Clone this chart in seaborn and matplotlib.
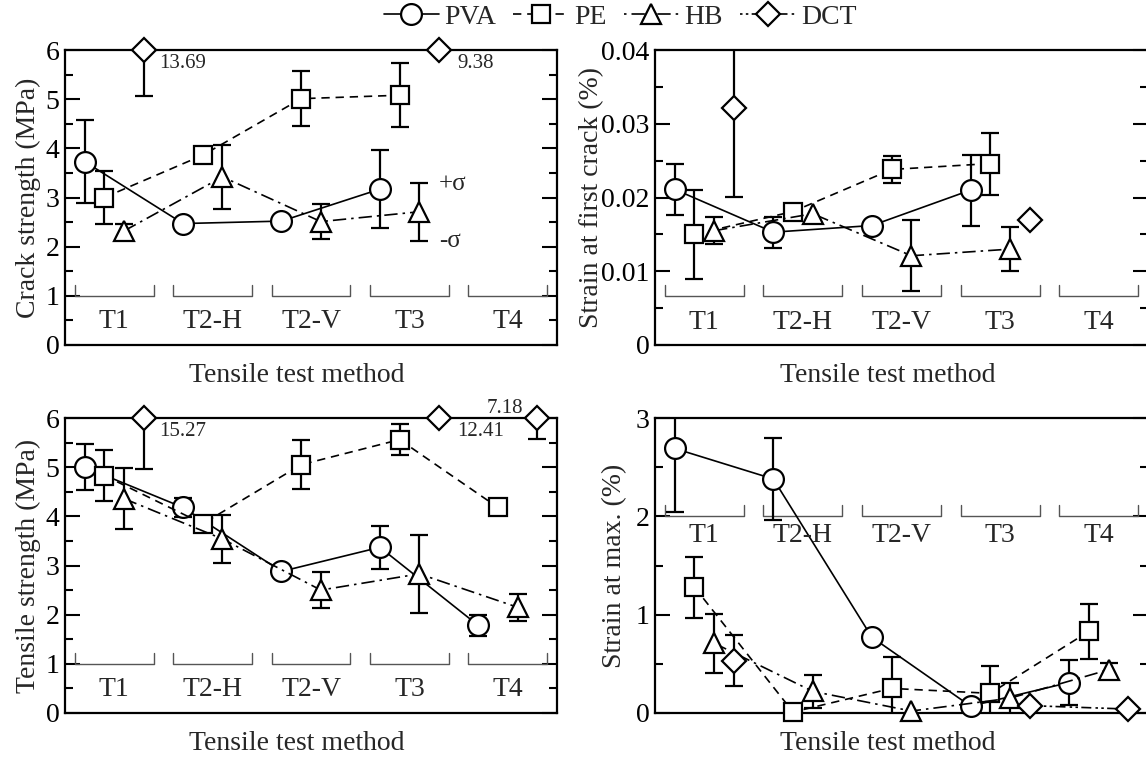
import numpy as np
import pandas as pd
import matplotlib
matplotlib.use("Agg")
import matplotlib.pyplot as plt
import seaborn as sns
from matplotlib.lines import Line2D

# ---------------- data ----------------
methods = ["T1", "T2-H", "T2-V", "T3", "T4"]
series = ["PVA", "PE", "HB", "DCT"]
nan = np.nan

# Crack strength (MPa)
crack_pva = [3.73, 2.47, 2.52, 3.17, nan]
crack_pva_sd = [0.84, nan, nan, 0.80, nan]
crack_pe = [3.00, 3.86, 5.01, 5.08, nan]
crack_pe_sd = [0.53, nan, 0.56, 0.65, nan]
crack_hb = [2.32, 3.42, 2.51, 2.71, nan]
crack_hb_sd = [0.14, 0.65, 0.36, 0.59, nan]
crack_dct = [13.69, nan, nan, 9.38, nan]
crack_dct_sd = [8.62, nan, nan, nan, nan]

# Strain at first crack (%)
fc_pva = [0.0211, 0.0153, 0.0162, 0.0210, nan]
fc_pva_sd = [0.0035, 0.0021, nan, 0.0048, nan]
fc_pe = [0.0150, 0.0181, 0.0238, 0.0246, nan]
fc_pe_sd = [0.0060, nan, 0.0018, 0.0042, nan]
fc_hb = [0.0155, 0.0178, 0.0121, 0.0130, nan]
fc_hb_sd = [0.0018, nan, 0.0048, 0.0030, nan]
fc_dct = [0.0322, nan, nan, 0.0169, nan]
fc_dct_sd = [0.0121, nan, nan, nan, nan]

# Tensile strength (MPa)
ts_pva = [5.00, 4.18, 2.88, 3.37, 1.78]
ts_pva_sd = [0.47, 0.19, nan, 0.44, 0.22]
ts_pe = [4.83, 3.85, 5.05, 5.56, 4.18]
ts_pe_sd = [0.52, nan, 0.50, 0.32, nan]
ts_hb = [4.36, 3.54, 2.50, 2.83, 2.15]
ts_hb_sd = [0.62, 0.49, 0.36, 0.80, 0.27]
ts_dct = [15.27, nan, nan, 12.41, 7.18]
ts_dct_sd = [10.31, nan, nan, nan, 1.61]

# Strain at max. (%)
sm_pva = [2.69, 2.38, 0.77, 0.07, 0.31]
sm_pva_sd = [0.65, 0.42, nan, nan, 0.23]
sm_pe = [1.28, 0.01, 0.25, 0.20, 0.83]
sm_pe_sd = [0.31, nan, 0.32, 0.28, 0.28]
sm_hb = [0.71, 0.22, 0.02, 0.15, 0.44]
sm_hb_sd = [0.30, 0.17, nan, 0.16, 0.07]
sm_dct = [0.53, nan, nan, 0.075, 0.04]
sm_dct_sd = [0.26, nan, nan, nan, nan]

# ---------------- style ----------------
sns.set_theme(style="ticks")
plt.rcParams["font.family"] = ["Liberation Serif", "DejaVu Serif"]
FS = 20

offsets = {"PVA": 0.2, "PE": 0.4, "HB": 0.6, "DCT": 0.8}
dash = {
    "PVA": (),
    "PE": (5, 3.5),
    "HB": (8, 3, 1.5, 3),
    "DCT": (6, 2.5, 1.5, 2, 1.5, 2),
}
markers = {"PVA": ("o", 15), "PE": ("s", 13), "HB": ("^", 15), "DCT": ("D", 12)}
legend_offset = {"PVA": 0, "PE": 0, "HB": 11, "DCT": 8.5}


def style(name, offset=0):
    ls = "-" if not dash[name] else (offset, dash[name])
    m, ms = markers[name]
    return dict(linestyle=ls, marker=m, markersize=ms)


W, H = 1146, 760
fig = plt.figure(figsize=(W / 100, H / 100), dpi=100)


def rect(l, r, t, b):
    return [l / W, 1 - b / H, (r - l) / W, (b - t) / H]


ax_tl = fig.add_axes(rect(65, 557, 50, 345))
ax_tr = fig.add_axes(rect(655, 1148, 50, 345))
ax_bl = fig.add_axes(rect(65, 557, 418, 713))
ax_br = fig.add_axes(rect(655, 1148, 418, 713))


def draw_series(ax, name, vals, sds, ymax):
    x = np.arange(len(methods)) + offsets[name]
    y = np.asarray(vals, float)
    sd = np.asarray(sds, float)
    ok = np.isfinite(sd) & np.isfinite(y)
    if ok.any():
        ax.errorbar(x[ok], y[ok], yerr=sd[ok], fmt="none", ecolor="black",
                    elinewidth=1.6, capsize=6.5, capthick=1.6, zorder=2)
    seg = np.cumsum(np.isnan(y))
    df = pd.DataFrame({"x": x, "y": np.minimum(y, ymax), "seg": seg}).dropna()
    sns.lineplot(data=df, x="x", y="y", units="seg", estimator=None, sort=True,
                 ax=ax, color="black", linewidth=1.2,
                 markerfacecolor="white", markeredgecolor="black",
                 markeredgewidth=1.6, clip_on=False, zorder=3, legend=False,
                 **style(name))


def setup(ax, ymax, major, minor, ylabel, bracket_y, label_y, ylabelpad,
          ticklabels=None):
    ax.set_xlim(0, len(methods))
    ax.set_ylim(0, ymax)
    ax.set_xticks([])
    ax.set_yticks(np.arange(0, ymax + major / 2, major))
    if ticklabels is not None:
        ax.set_yticklabels(ticklabels)
    ax.set_yticks(np.arange(0, ymax + minor / 2, minor), minor=True)
    ax.tick_params(axis="y", which="both", direction="in", left=True, right=True,
                   width=1.5, labelsize=FS, pad=4, colors="black")
    ax.tick_params(axis="y", which="major", length=11)
    ax.tick_params(axis="y", which="minor", length=5.5)
    for s in ax.spines.values():
        s.set_visible(True)
        s.set_linewidth(1.6)
        s.set_color("black")
    ax.set_ylabel(ylabel, fontsize=FS, labelpad=ylabelpad)
    ax.set_xlabel("Tensile test method", fontsize=FS)
    ax.xaxis.set_label_coords(0.472, -0.06, transform=ax.transAxes)
    ax.xaxis.label.set_va("top")
    th = 0.037 * ymax
    for i, m in enumerate(methods):
        a, b = i + 0.1, i + 0.9
        ax.plot([a, a, b, b], [bracket_y + th, bracket_y, bracket_y, bracket_y + th],
                color="#555555", lw=1.0, zorder=1)
        ax.text(i + 0.5, label_y, m, ha="center", va="center", fontsize=FS)
    ax.set_facecolor("white")


panels = [
    (ax_tl, [crack_pva, crack_pe, crack_hb, crack_dct],
     [crack_pva_sd, crack_pe_sd, crack_hb_sd, crack_dct_sd], 6),
    (ax_tr, [fc_pva, fc_pe, fc_hb, fc_dct],
     [fc_pva_sd, fc_pe_sd, fc_hb_sd, fc_dct_sd], 0.04),
    (ax_bl, [ts_pva, ts_pe, ts_hb, ts_dct],
     [ts_pva_sd, ts_pe_sd, ts_hb_sd, ts_dct_sd], 6),
    (ax_br, [sm_pva, sm_pe, sm_hb, sm_dct],
     [sm_pva_sd, sm_pe_sd, sm_hb_sd, sm_dct_sd], 3),
]
for ax, vals, sds, ymax in panels:
    for name, v, s in zip(series, vals, sds):
        draw_series(ax, name, v, s, ymax)

setup(ax_tl, 6, 1, 0.5, "Crack strength (MPa)", 1.0, 0.47, 3)
setup(ax_tr, 0.04, 0.01, 0.005, "Strain at first crack (%)", 0.0066, 0.003, -2,
      ["0", "0.01", "0.02", "0.03", "0.04"])
setup(ax_bl, 6, 1, 0.5, "Tensile strength (MPa)", 1.0, 0.47, 3)
setup(ax_br, 3, 1, 0.5, "Strain at max. (%)", 2.0, 1.8, 6)

# off-scale DCT values
AFS = 15
ax_tl.text(0.96, 5.73, f"{crack_dct[0]:.2f}", fontsize=AFS, va="center", ha="left")
ax_tl.text(3.99, 5.73, f"{crack_dct[3]:.2f}", fontsize=AFS, va="center", ha="left")
ax_bl.text(0.96, 5.73, f"{ts_dct[0]:.2f}", fontsize=AFS, va="center", ha="left")
ax_bl.text(3.99, 5.73, f"{ts_dct[3]:.2f}", fontsize=AFS, va="center", ha="left")
ax_bl.text(4.66, 6.2, f"{ts_dct[4]:.2f}", fontsize=AFS, va="center", ha="right", clip_on=False)

# sigma notes
ax_tl.text(3.8, 3.28, "+σ", fontsize=FS - 2, va="center", ha="left")
ax_tl.text(3.8, 2.12, "-σ", fontsize=FS - 2, va="center", ha="left")

# legend
handles = [Line2D([], [], color="black", linewidth=1.2, markerfacecolor="white",
                  markeredgecolor="black", markeredgewidth=1.6,
                  **style(n, legend_offset[n]))
           for n in series]
fig.legend(handles, series, loc="center", bbox_to_anchor=(620 / W, 1 - 17 / H),
           ncol=4, frameon=False, fontsize=FS, handlelength=2.0,
           handletextpad=0.2, columnspacing=0.6, borderpad=0)

fig.savefig("out.png", dpi=100, facecolor="white")
